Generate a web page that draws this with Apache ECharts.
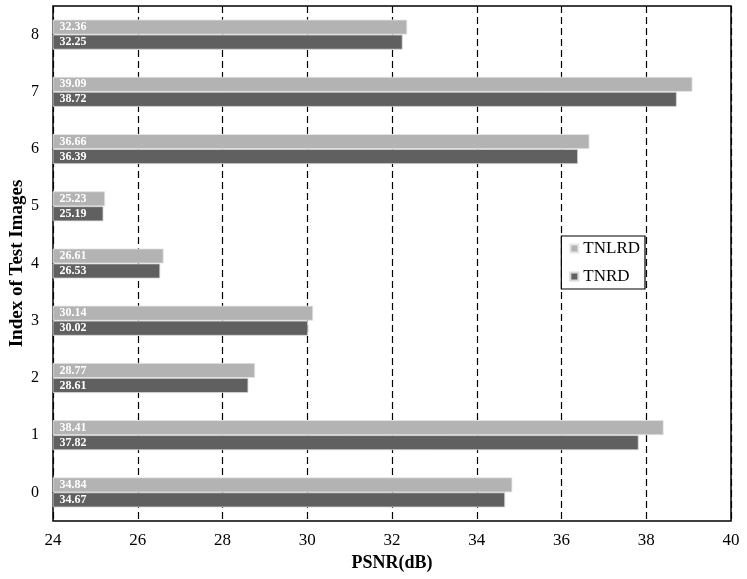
<!DOCTYPE html>
<html><head><meta charset="utf-8">
<script src="https://cdn.jsdelivr.net/npm/echarts@6/dist/echarts.min.js"></script>
<style>html,body{margin:0;padding:0;background:#fff}#c{width:747px;height:579px}</style>
</head><body><div id="c"></div>
<script>
const categories = ['0','1','2','3','4','5','6','7','8'];
const tnlrd = [34.84, 38.41, 28.77, 30.14, 26.61, 25.23, 36.66, 39.09, 32.36];
const tnrd  = [34.67, 37.82, 28.61, 30.02, 26.53, 25.19, 36.39, 38.72, 32.25];
const FONT = '"Liberation Serif", "DejaVu Serif", serif';
const lbl = {show:true, position:'insideLeft', distance:7, color:'#fff', fontFamily:FONT, fontWeight:'bold', fontSize:12, formatter:p=>p.value.toFixed(2)};
const chart = echarts.init(document.getElementById('c'));
chart.setOption({
  animation:false,
  grid:{left:53, right:16, top:6, bottom:58, show:true, borderColor:'#000', borderWidth:1.5, containLabel:false, outerBoundsMode:'none'},
  legend:{
    orient:'vertical', right:102, top:236, data:['TNLRD','TNRD'],
    icon:'rect', itemWidth:8, itemHeight:8, itemGap:11,
    borderColor:'#000', borderWidth:1.2, borderRadius:0, padding:[4,5,4,8],
    backgroundColor:'#fff',
    textStyle:{fontFamily:FONT, fontSize:17, color:'#000'}
  },
  xAxis:{
    type:'value', min:24, max:40, interval:2,
    name:'PSNR(dB)', nameLocation:'middle', nameGap:33,
    nameTextStyle:{fontFamily:FONT, fontWeight:'bold', fontSize:18, color:'#000'},
    axisLine:{show:false}, axisTick:{show:false},
    axisLabel:{fontFamily:FONT, fontSize:17, color:'#000', margin:11},
    splitLine:{show:true, lineStyle:{color:'#000', type:[7,4], width:1.2}}
  },
  yAxis:{
    type:'category', data:categories,
    name:'Index of Test Images', nameLocation:'middle', nameGap:26, nameMoveOverlap:false,
    nameTextStyle:{fontFamily:FONT, fontWeight:'bold', fontSize:19, color:'#000'},
    axisLine:{show:false}, axisTick:{show:false},
    axisLabel:{fontFamily:FONT, fontSize:16, color:'#000', margin:14}
  },
  series:[
    {name:'TNLRD', type:'bar', data:tnlrd, barWidth:15, barGap:'0%', z:3,
     itemStyle:{color:'#b3b3b3', borderColor:'#e6e6e6', borderWidth:0.8}, label:lbl},
    {name:'TNRD', type:'bar', data:tnrd, barWidth:15, barGap:'0%', z:3,
     itemStyle:{color:'#606060', borderColor:'#d8d8d8', borderWidth:0.8}, label:lbl}
  ]
});
</script></body></html>
